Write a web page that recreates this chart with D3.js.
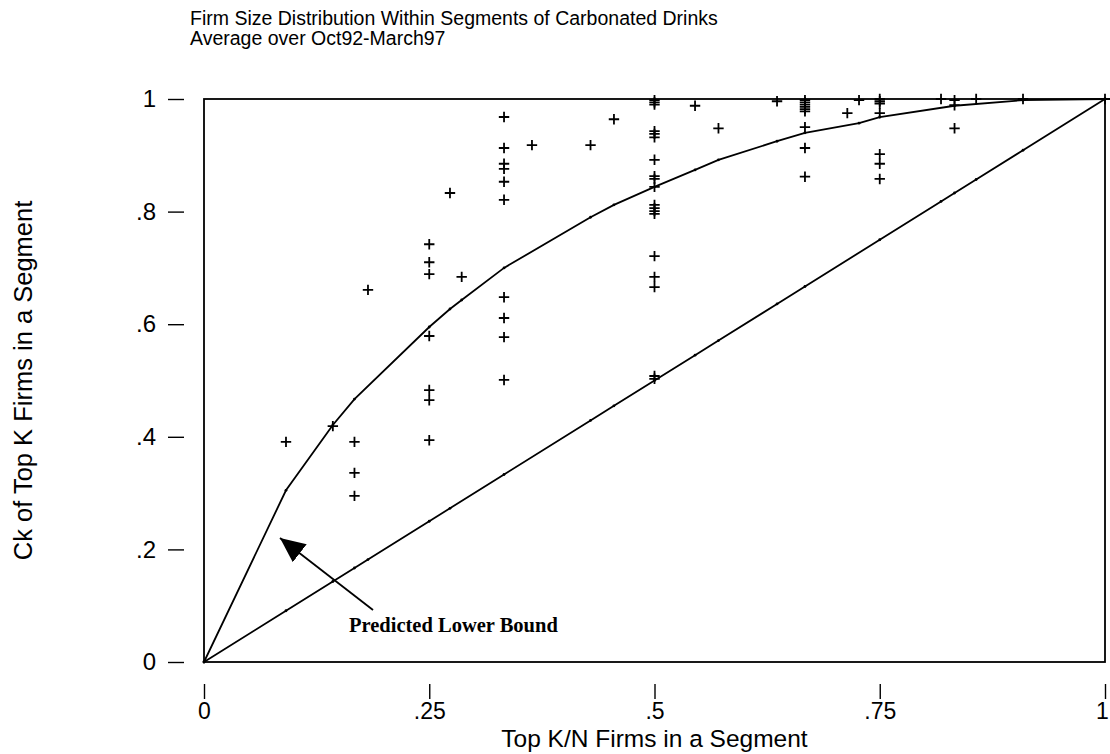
<!DOCTYPE html>
<html>
<head>
<meta charset="utf-8">
<script src="https://cdn.jsdelivr.net/npm/d3@7/dist/d3.min.js"></script>
<style>
  html, body { margin: 0; padding: 0; background: #fff; }
  svg { display: block; font-family: "Liberation Sans", Arial, sans-serif; }
</style>
</head>
<body>
<svg id="chart" width="1110" height="754"></svg>
<script>
// ---- data ----
const titleLines = ["Firm Size Distribution Within Segments of Carbonated Drinks", "Average over Oct92-March97"];
const xLabel = "Top K/N Firms in a Segment";
const yLabel = "Ck of Top K Firms in a Segment";
const xTicks = [0, 0.25, 0.5, 0.75, 1];
const xTickLabels = ["0", ".25", ".5", ".75", "1"];
const yTicks = [0, 0.2, 0.4, 0.6, 0.8, 1];
const yTickLabels = ["0", ".2", ".4", ".6", ".8", "1"];

// predicted lower bound curve
const boundX = [0, 0.091, 0.143, 0.167, 0.25, 0.273, 0.286, 0.333, 0.429, 0.455, 0.5, 0.545, 0.571, 0.636, 0.667, 0.727, 0.75, 0.833, 0.909, 1];
const boundY = [0, 0.305, 0.421, 0.467, 0.595, 0.627, 0.643, 0.700, 0.790, 0.812, 0.844, 0.874, 0.892, 0.925, 0.940, 0.957, 0.968, 0.988, 0.998, 1];

// equal-size diagonal
const diagX = [0, 0.091, 0.143, 0.167, 0.182, 0.25, 0.273, 0.333, 0.429, 0.455, 0.5, 0.545, 0.571, 0.636, 0.667, 0.75, 0.818, 0.833, 0.857, 0.909, 1];
const diagY = [0, 0.091, 0.143, 0.167, 0.182, 0.25, 0.273, 0.333, 0.429, 0.455, 0.5, 0.545, 0.571, 0.636, 0.667, 0.75, 0.818, 0.833, 0.857, 0.909, 1];

// observed segments (K/N, Ck)
const obsX = [
  0.091, 0.143, 0.167, 0.167, 0.167, 0.182,
  0.25, 0.25, 0.25, 0.25, 0.25, 0.25, 0.25,
  0.273, 0.286,
  0.333, 0.333, 0.333, 0.333, 0.333, 0.333, 0.333, 0.333, 0.333, 0.333,
  0.364, 0.429, 0.455,
  0.5, 0.5, 0.5, 0.5, 0.5, 0.5, 0.5, 0.5, 0.5, 0.5, 0.5, 0.5, 0.5, 0.5, 0.5, 0.5, 0.5, 0.5, 0.5,
  0.545, 0.571, 0.636,
  0.667, 0.667, 0.667, 0.667, 0.667, 0.667, 0.667, 0.667, 0.667,
  0.714, 0.727,
  0.75, 0.75, 0.75, 0.75, 0.75, 0.75, 0.75,
  0.818, 0.833, 0.833, 0.833, 0.857, 0.909, 1
];
const obsY = [
  0.391, 0.419, 0.391, 0.336, 0.295, 0.661,
  0.742, 0.710, 0.689, 0.579, 0.483, 0.465, 0.394,
  0.833, 0.684,
  0.968, 0.913, 0.885, 0.876, 0.853, 0.821, 0.648, 0.611, 0.577, 0.501,
  0.918, 0.918, 0.964,
  0.998, 0.994, 0.990, 0.943, 0.938, 0.932, 0.892, 0.863, 0.858, 0.844, 0.812, 0.806, 0.801, 0.796, 0.721, 0.684, 0.666, 0.508, 0.503,
  0.988, 0.948, 0.996,
  0.998, 0.994, 0.990, 0.986, 0.982, 0.978, 0.950, 0.913, 0.862,
  0.975, 0.998,
  1.0, 0.996, 0.992, 0.975, 0.902, 0.885, 0.858,
  1.0, 0.998, 0.989, 0.948, 1.0, 1.0, 1.0
];
const annotation = "Predicted Lower Bound";

// ---- layout ----
const svg = d3.select("#chart");
const mL = 204, mR = 1105, mT = 99, mB = 662;
const x = d3.scaleLinear().domain([0, 1]).range([mL, mR]);
const y = d3.scaleLinear().domain([0, 1]).range([mB, mT]);
const SANS = "Liberation Sans, Arial, sans-serif";

// title
svg.append("text").attr("x", 190).attr("y", 25).attr("font-size", 19.5).attr("font-family", SANS).text(titleLines[0]);
svg.append("text").attr("x", 190).attr("y", 45).attr("font-size", 19.5).attr("font-family", SANS).text(titleLines[1]);

// frame
svg.append("rect").attr("x", mL).attr("y", mT).attr("width", mR - mL).attr("height", mB - mT)
  .attr("fill", "none").attr("stroke", "#000").attr("stroke-width", 1.8);

// y axis (detached, ticks outside)
const yAxis = d3.axisLeft(y).tickValues(yTicks).tickFormat((d, i) => yTickLabels[i]).tickSize(16).tickPadding(12);
const gy = svg.append("g").attr("transform", `translate(${mL - 20},0)`).call(yAxis);
gy.select(".domain").remove();
gy.selectAll(".tick line").attr("stroke", "#000").attr("stroke-width", 1.4);
gy.selectAll(".tick text").attr("font-family", SANS).attr("font-size", 24).attr("fill", "#000");

// x axis
const xAxis = d3.axisBottom(x).tickValues(xTicks).tickFormat((d, i) => xTickLabels[i]).tickSize(15).tickPadding(4);
const gx = svg.append("g").attr("transform", `translate(0,${mB + 22})`).call(xAxis);
gx.select(".domain").remove();
gx.selectAll(".tick line").attr("stroke", "#000").attr("stroke-width", 1.4);
gx.selectAll(".tick text").attr("font-family", SANS).attr("font-size", 23).attr("fill", "#000")
  .attr("dx", (d, i) => i === xTicks.length - 1 ? -3 : 0);

// axis labels
svg.append("text").attr("x", (mL + mR) / 2).attr("y", 747).attr("text-anchor", "middle")
  .attr("font-family", SANS).attr("font-size", 24.5).text(xLabel);
svg.append("text").attr("transform", `translate(32,${(mT + mB) / 2}) rotate(-90)`).attr("text-anchor", "middle")
  .attr("font-family", SANS).attr("font-size", 25.5).text(yLabel);

// lines
const line = d3.line().x(d => x(d[0])).y(d => y(d[1]));
const boundData = boundX.map((v, i) => [v, boundY[i]]);
const diagData = diagX.map((v, i) => [v, diagY[i]]);
svg.append("path").datum(boundData).attr("d", line).attr("fill", "none").attr("stroke", "#000").attr("stroke-width", 1.8);
svg.append("path").datum(diagData).attr("d", line).attr("fill", "none").attr("stroke", "#000").attr("stroke-width", 1.8);
[boundData, diagData].forEach(dat => {
  svg.append("g").selectAll("circle").data(dat).join("circle")
    .attr("cx", d => x(d[0])).attr("cy", d => y(d[1])).attr("r", 1.4).attr("fill", "#000");
});

// observed plus markers
const obs = obsX.map((v, i) => [v, obsY[i]]);
const s = 5.2;
svg.append("g").selectAll("path").data(obs).join("path")
  .attr("d", d => { const cx = x(d[0]), cy = y(d[1]); return `M${cx - s},${cy}H${cx + s}M${cx},${cy - s}V${cy + s}`; })
  .attr("stroke", "#000").attr("stroke-width", 1.8).attr("fill", "none");

// annotation
svg.append("text").attr("x", 349).attr("y", 632).attr("font-family", "Liberation Serif, Times New Roman, serif")
  .attr("font-weight", "bold").attr("font-size", 20.5).text(annotation);
const defs = svg.append("defs");
defs.append("marker").attr("id", "ah").attr("viewBox", "0 0 11 10").attr("refX", 11).attr("refY", 5)
  .attr("markerWidth", 25).attr("markerHeight", 22.7).attr("markerUnits", "userSpaceOnUse").attr("orient", "auto")
  .append("path").attr("d", "M0,0L11,5L0,10Z").attr("fill", "#000");
svg.append("line").attr("x1", 373).attr("y1", 610).attr("x2", 280).attr("y2", 538)
  .attr("stroke", "#000").attr("stroke-width", 1.8).attr("marker-end", "url(#ah)");
</script>
</body>
</html>
